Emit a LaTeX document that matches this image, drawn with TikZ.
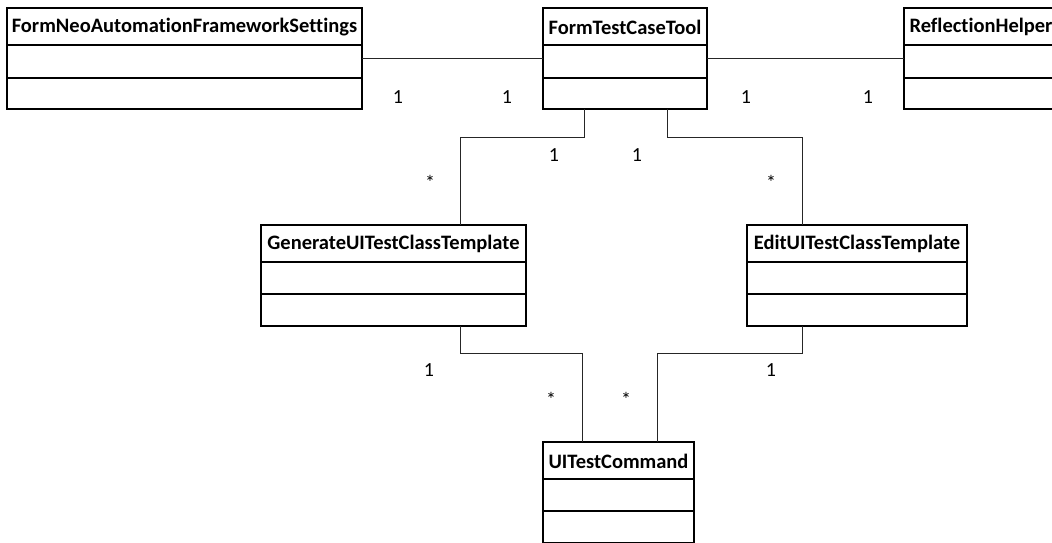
\documentclass[tikz,border=0pt]{standalone}
\usepackage{fontspec}
\setmainfont{Carlito}[Ligatures=NoCommon]
\begin{document}
\begin{tikzpicture}[x=1pt,y=-1pt,
  classbox/.style={draw, line width=1.4pt, rectangle, inner sep=0pt, outer sep=0pt},
  sepline/.style={line width=1.4pt},
  wire/.style={draw=black!85, line width=0.9pt},
  ctitle/.style={font=\bfseries\fontsize{20.5}{24}\selectfont, inner sep=0pt},
  mult/.style={font=\fontsize{20}{24}\selectfont, inner sep=0pt}]
\useasboundingbox (0,0) rectangle (1052,543);

% UML class with a title row and two empty compartments
% #1 name, #2/#3 top-left, #4/#5 bottom-right, #6 title, #7/#8 separator offsets
\newcommand\umlclass[8]{%
  \node[classbox, anchor=north west,
        minimum width={(#4)-(#2)}, minimum height={(#5)-(#3)}] (#1) at (#2,#3) {};
  \node[ctitle] (#1-title) at ([yshift=-19pt]#1.north) {#6};
  \draw[sepline] ([yshift=-#7pt]#1.north west) -- ([yshift=-#7pt]#1.north east);
  \draw[sepline] ([yshift=-#8pt]#1.north west) -- ([yshift=-#8pt]#1.north east);
}

\umlclass{neo}{7}{8}{362}{109}{FormNeoAutomationFrameworkSettings}{37}{70}
\umlclass{tool}{543}{8}{707}{109}{FormTestCaseTool}{37}{70}
\umlclass{refl}{904}{8}{1058}{109}{ReflectionHelper}{37}{70}
\umlclass{gen}{261}{225}{526}{326}{GenerateUITestClassTemplate}{37}{69}
\umlclass{edit}{747}{225}{967}{326}{EditUITestClassTemplate}{37}{69}
\umlclass{cmd}{543}{442}{694}{543}{UITestCommand}{37}{69}

% associations
\draw[wire] (neo.east) -- (tool.west);
\draw[wire] (tool.east) -- (refl.west);
\draw[wire] ([xshift=-41pt]tool.south) -- ++(0,28) -| ([xshift=66.5pt]gen.north);
\draw[wire] ([xshift=42pt]tool.south) -- ++(0,28) -| ([xshift=-55pt]edit.north);
\draw[wire] ([xshift=66.5pt]gen.south) -- ++(0,27) -| ([xshift=-36.5pt]cmd.north);
\draw[wire] ([xshift=-55pt]edit.south) -- ++(0,27) -| ([xshift=38.5pt]cmd.north);

% multiplicities
\node[mult] (m1) at (398,97) {1};
\node[mult] (m2) at (507,97) {1};
\node[mult] (m3) at (746,97) {1};
\node[mult] (m4) at (868,97) {1};
\node[mult] (m5) at (554,155) {1};
\node[mult] (m6) at (637,155) {1};
\node[mult] (m7) at (430,182) {*};
\node[mult] (m8) at (771,182) {*};
\node[mult] (m9) at (429,370) {1};
\node[mult] (m10) at (771,370) {1};
\node[mult] (m11) at (551,399) {*};
\node[mult] (m12) at (626,399) {*};
\end{tikzpicture}
\end{document}
